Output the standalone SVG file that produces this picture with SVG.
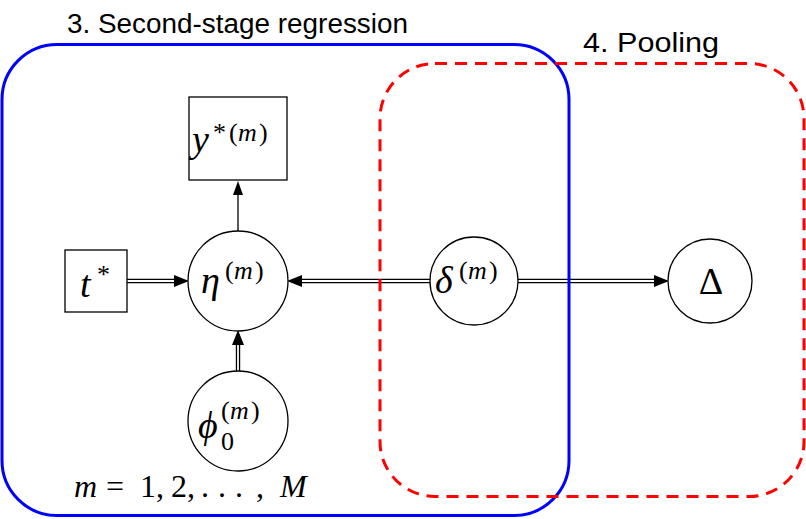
<svg xmlns="http://www.w3.org/2000/svg" width="806" height="519" viewBox="0 0 806 519">
<style>
.node{fill:#fff;stroke:#000;stroke-width:1.3}
.m{font-family:"Liberation Serif",serif;font-style:italic;fill:#000}
.r{font-family:"Liberation Serif",serif;font-style:normal;fill:#000}
.big{font-size:38px}
.sup{font-size:26px}
.lab{font-size:32px}
.sans{font-family:"Liberation Sans",sans-serif;fill:#000;font-size:27px}
.dbo{fill:none;stroke:#000;stroke-width:4.4}
.dbi{fill:none;stroke:#fff;stroke-width:1.8}
.single{fill:none;stroke:#000;stroke-width:1.3}
.head{fill:#000}
.plate3{fill:none;stroke:#0000ff;stroke-width:3}
.plate4{fill:none;stroke:#ff0000;stroke-width:3;stroke-dasharray:12 8}
</style>
<g id="connectors">
<line class="dbo" x1="127" y1="281" x2="174" y2="281"/>
<line class="dbi" x1="127" y1="281" x2="176" y2="281"/>
<path class="head" d="M174,275 L189,281 L174,287 Z"/>
<line class="dbo" x1="430" y1="281" x2="302" y2="281"/>
<line class="dbi" x1="430" y1="281" x2="300" y2="281"/>
<path class="head" d="M302,275 L287,281 L302,287 Z"/>
<line class="dbo" x1="518" y1="281" x2="654" y2="281"/>
<line class="dbi" x1="518" y1="281" x2="656" y2="281"/>
<path class="head" d="M654,275 L669,281 L654,287 Z"/>
<line class="dbo" x1="238" y1="372" x2="238" y2="345"/>
<line class="dbi" x1="238" y1="372" x2="238" y2="343"/>
<path class="head" d="M232,345 L238,330 L244,345 Z"/>
<line class="single" x1="238" y1="231" x2="238" y2="194"/>
<path class="head" d="M233,195 L238,181 L243,195 Z"/>
</g>
<g id="plate-second-stage">
<rect class="plate3" x="2" y="44.5" width="567" height="471" rx="55" ry="55"/>
<text class="sans" x="67" y="33" textLength="341" lengthAdjust="spacingAndGlyphs">3. Second-stage regression</text>
<text class="lab" y="497"><tspan class="m" x="74">m</tspan><tspan class="r" x="106">=</tspan><tspan class="r" x="140">1,</tspan><tspan class="r" x="171">2,</tspan><tspan class="r" x="201">.</tspan><tspan class="r" x="218">.</tspan><tspan class="r" x="235">.</tspan><tspan class="r" x="256">,</tspan><tspan class="m" x="280">M</tspan></text>
</g>
<g id="plate-pooling">
<rect class="plate4" x="380" y="63.5" width="424" height="433" rx="55" ry="55"/>
<text class="sans" x="583" y="52" textLength="136" lengthAdjust="spacingAndGlyphs">4. Pooling</text>
</g>
<g id="node-ystar">
<rect class="node" x="189" y="97" width="98" height="83"/>
<text class="m big" x="192" y="152">y</text>
<text class="sup" y="141"><tspan class="r" x="213">*</tspan><tspan class="r" x="229">(</tspan><tspan class="m" x="238">m</tspan><tspan class="r" x="259">)</tspan></text>
</g>
<g id="node-tstar">
<rect class="node" x="65" y="250" width="62" height="62"/>
<text class="m big" x="80" y="297">t</text>
<text class="r sup" x="97" y="283">*</text>
</g>
<g id="node-eta">
<circle class="node" cx="238" cy="281" r="50"/>
<text class="m big" x="201" y="293">η</text>
<text class="sup" y="279"><tspan class="r" x="225">(</tspan><tspan class="m" x="234">m</tspan><tspan class="r" x="255">)</tspan></text>
</g>
<g id="node-delta">
<circle class="node" cx="474" cy="281" r="44"/>
<text class="m big" x="435" y="293">δ</text>
<text class="sup" y="279"><tspan class="r" x="459">(</tspan><tspan class="m" x="468">m</tspan><tspan class="r" x="489">)</tspan></text>
</g>
<g id="node-Delta">
<circle class="node" cx="710" cy="281" r="42"/>
<text class="r big" x="711" y="294" text-anchor="middle">Δ</text>
</g>
<g id="node-phi">
<circle class="node" cx="238" cy="421" r="50"/>
<text class="m big" x="198" y="438">ϕ</text>
<text class="sup" y="419"><tspan class="r" x="221">(</tspan><tspan class="m" x="230">m</tspan><tspan class="r" x="251">)</tspan></text>
<text class="r sup" x="221" y="450">0</text>
</g>
</svg>
